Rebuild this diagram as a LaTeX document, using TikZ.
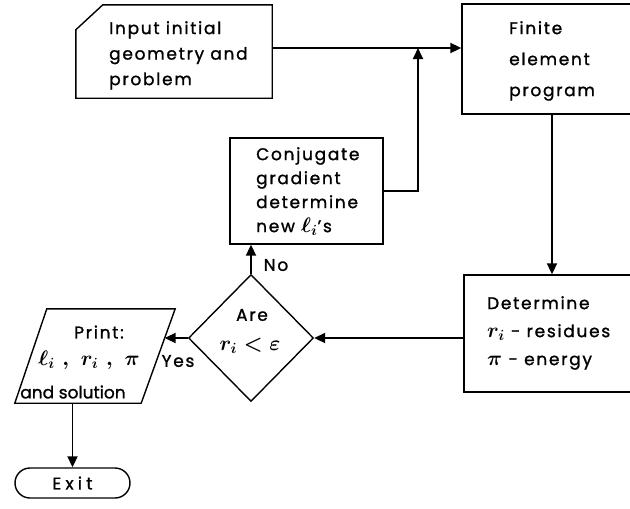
\RequirePackage{fix-cm}
\documentclass[tikz,border=0pt]{standalone}
\usepackage{fontspec}
\setmainfont{Poppins}[LetterSpace=10, FakeBold=1.2]
\usetikzlibrary{arrows.meta,shapes.geometric,shapes.misc}

% symbols in the lettering are set larger than the text around them
\newcommand\sym[1]{{\fontsize{21}{21}\selectfont\boldmath$#1$}}

\tikzset{
  outline/.style={line width=1.4pt, line join=miter},
  shell/.style={rectangle, draw=none, inner sep=0pt},
  box/.style={rectangle, draw, outline, inner sep=0pt},
  flow/.style={line width=1.9pt, -{Triangle[length=11pt,width=10pt]}},
  txt/.style={inner sep=0pt, align=left, anchor=north west},
  tag/.style={inner sep=0pt, font=\fontsize{17}{20}\selectfont}
}

\begin{document}
\begin{tikzpicture}[x=1pt, y=-1pt]
\clip (0,0) rectangle (630,509);

% input block with a cut corner
\node[shell, minimum width=196, minimum height=93] (input) at (174,51.5) {};
\draw[outline] ([yshift=-25pt]input.north west) -- ([xshift=27pt]input.north west)
  -- (input.north east) -- (input.south east) -- (input.south west) -- cycle;
\node[txt, font=\fontsize{17}{25.5}\selectfont] (tinput) at (109,21)
  {Input initial\\geometry and\\problem};

% finite element program (runs off the right edge)
\node[box, minimum width=300, minimum height=110] (fem) at (612,59) {};
\node[txt, font=\fontsize{17}{31}\selectfont] (tfem) at (509,21)
  {Finite\\element\\program};

% conjugate gradient step
\node[box, minimum width=153, minimum height=106] (cg) at (306.5,191) {};
\node[txt, font=\fontsize{17}{24}\selectfont] (tcg) at (256,147)
  {Conjugate\\gradient\\determine\\new \sym{\ell_i}'s};

% residues and energy (runs off the right edge)
\node[box, minimum width=300, minimum height=117] (det) at (614,333.5) {};
\node[txt, font=\fontsize{17}{28}\selectfont] (tdet) at (487,296)
  {Determine\\\sym{r_i}\ - residues\\\sym{\pi} - energy};

% convergence test
\node[diamond, draw, outline, inner sep=0pt, minimum width=125, minimum height=127] (dia) at (251,338) {};
\node[tag] (tare) at (252,315) {Are};
\node[tag] (tcond) at (250,346) {\sym{r_i < \varepsilon}};

% print block (parallelogram)
\node[shell, minimum width=160, minimum height=94] (print) at (95,356) {};
\coordinate (ptl) at ([xshift=32pt]print.north west);
\coordinate (ptr) at (print.north east);
\coordinate (pbr) at ([xshift=-34pt]print.south east);
\coordinate (pbl) at (print.south west);
\draw[outline] (ptl) -- (ptr) -- (pbr) -- (pbl) -- cycle;
\node[tag] (tprint) at (99,332) {Print:};
\node[tag] (tvars) at (89,360) {\sym{\ell_i\ ,\ r_i\ ,\ \pi}};
\node[tag, font=\fontsize{17}{20}\selectfont\addfontfeature{LetterSpace=0}] (tsol) at (73,392) {and solution};

% exit terminal
\node[rounded rectangle, draw, outline, inner sep=0pt, minimum width=115, minimum height=30,
      font=\fontsize{17}{20}\selectfont\addfontfeature{LetterSpace=25}] (exit) at (72.5,483) {Exit};

% connectors
\coordinate (jn) at (418,48);
\coordinate (drop) at (552,0);
\coordinate (pin) at (intersection of ptr--pbr and dia.west--dia.east);

\draw[flow] (input.east |- jn) -- (fem.west |- jn);
\draw[flow] (fem.south -| drop) -- (det.north -| drop);
\draw[flow] (det.west |- dia.east) -- (dia.east);
\draw[flow] (dia.north) -- (cg.south -| dia.north);
\draw[flow] (cg.east) -- (cg.east -| jn) -- (jn);
\draw[flow] (dia.west) -- (pin);
\draw[flow] (print.south -| exit.north) -- (exit.north);

% branch labels
\node[tag] (no) at (276,265) {No};
\node[tag] (yes) at (178,361) {Yes};
\end{tikzpicture}
\end{document}
